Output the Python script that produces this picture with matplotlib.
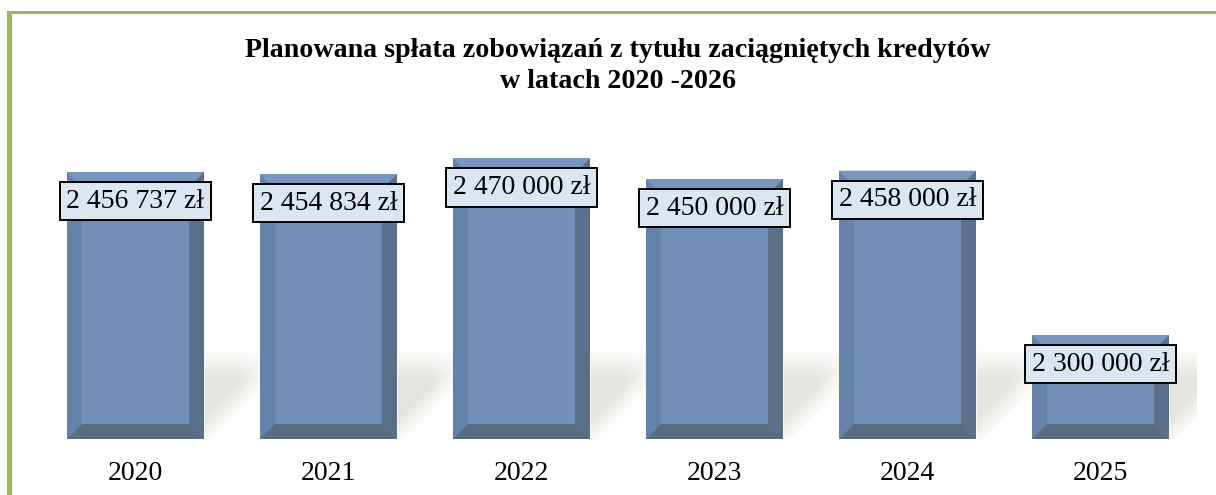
import numpy as np
import matplotlib
matplotlib.use("Agg")
import matplotlib.pyplot as plt
from matplotlib.patches import Polygon, Rectangle

years = ["2020", "2021", "2022", "2023", "2024", "2025"]
values = [2456737, 2454834, 2470000, 2450000, 2458000, 2300000]
labels = ["2 456 737 zł", "2 454 834 zł", "2 470 000 zł", "2 450 000 zł", "2 458 000 zł", "2 300 000 zł"]
title = "Planowana spłata zobowiązań z tytułu zaciągniętych kredytów\nw latach 2020 -2026"

W, H = 1216, 495
fig = plt.figure(figsize=(W / 100, H / 100), dpi=100)
plt.rcParams['font.family'] = ['Liberation Serif', 'DejaVu Serif']

# axes placement (pixels)
ax_l, ax_r = 39, 1197
ax_bot, ax_top = 439, 127
ax = fig.add_axes([ax_l / W, (H - ax_bot) / H, (ax_r - ax_l) / W, (ax_bot - ax_top) / H])
ymin, ymax = 2200000, 2500000
ax.set_xlim(-0.5, len(years) - 0.5)
ax.set_ylim(ymin, ymax)
for s in ax.spines.values():
    s.set_visible(False)
ax.set_yticks([])
x = np.arange(len(years))
ax.set_xticks(x)
ax.set_xticklabels(years, fontsize=20)
ax.tick_params(axis='x', length=0, pad=16)

px_x = (len(years)) / (ax_r - ax_l)          # data units per pixel, x
px_y = (ymax - ymin) / (ax_bot - ax_top)     # data units per pixel, y

# floor shadow (decorative gradient)
ny, nx = 120, ax_r - ax_l
img = np.zeros((ny, nx, 4))
img[..., 0] = 0.87
img[..., 1] = 0.89
img[..., 2] = 0.85
bw = 0.71
alpha = np.zeros((ny, nx))
vv = (ny - 1 - np.arange(ny))[:, None]
for i in range(len(years)):
    xr = (i + bw / 2 + 0.5) / px_x
    uu = np.arange(nx)[None, :] - xr
    a = np.clip((vv - uu * 1.0 + 10) / 30, 0, 1) * np.clip((90 - vv) / 30, 0, 1)
    a *= (uu >= 0) * np.clip((80 - uu) / 45, 0, 1)
    alpha = np.maximum(alpha, a)
img[..., 3] = alpha * 0.85
ax.imshow(img, extent=(-0.5, len(years) - 0.5, ymin, ymin + ny * px_y),
          aspect='auto', zorder=1, interpolation='bilinear')

face = '#7090B7'
c_left = '#6583A8'
c_right = '#596F8A'
c_bottom = '#5A6C82'
c_top = '#7896BE'
bars = ax.bar(x, [v - ymin for v in values], bottom=ymin, width=bw, color=face,
              edgecolor='none', zorder=2)
bx = 15 * px_x
by = 15 * px_y
for b in bars:
    x0 = b.get_x(); x1 = x0 + b.get_width()
    y0 = b.get_y(); y1 = y0 + b.get_height()
    polys = [
        ([(x0, y0), (x0 + bx, y0 + by), (x0 + bx, y1 - by), (x0, y1)], c_left),
        ([(x1, y0), (x1 - bx, y0 + by), (x1 - bx, y1 - by), (x1, y1)], c_right),
        ([(x0, y1), (x0 + bx, y1 - by), (x1 - bx, y1 - by), (x1, y1)], c_top),
        ([(x0, y0), (x0 + bx, y0 + by), (x1 - bx, y0 + by), (x1, y0)], c_bottom),
    ]
    for pts, c in polys:
        ax.add_patch(Polygon(pts, closed=True, facecolor=c, edgecolor='none', zorder=3))

for xi, v, lab in zip(x, values, labels):
    ax.annotate(lab, (xi, v), xytext=(0, -21), textcoords='offset points',
                ha='center', va='center', fontsize=20, zorder=5,
                bbox=dict(boxstyle='square,pad=0.24', facecolor='#DCE6F2',
                          edgecolor='black', linewidth=1.4))

fig.text(618 / W, 1 - 66 / H, title, ha='center', va='center', fontsize=20.2,
         fontweight='bold', linespacing=1.3)

# green frame (left and top)
fig.add_artist(Rectangle((7 / W, 0), 5 / W, (H - 11) / H, transform=fig.transFigure,
                         facecolor='#9BBB59', edgecolor='none'))
fig.add_artist(Rectangle((7 / W, (H - 14) / H), (W - 7) / W, 3 / H, transform=fig.transFigure,
                         facecolor='#9BBB59', edgecolor='none'))

fig.savefig('out.png', dpi=100)
